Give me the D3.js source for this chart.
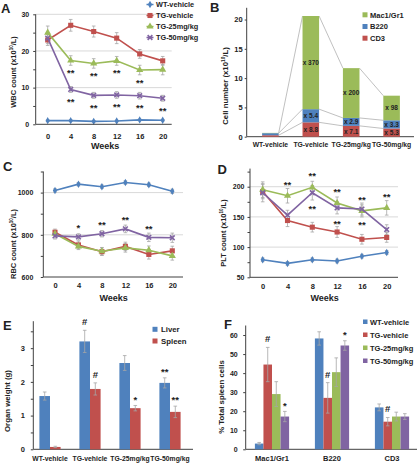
<!DOCTYPE html>
<html><head><meta charset="utf-8">
<script src="https://cdn.jsdelivr.net/npm/d3@7"></script>
<style>
body{margin:0;background:#fff}
text{font-family:"Liberation Sans",Arial,sans-serif;font-weight:bold;fill:#222}
</style>
</head><body><svg id="c" width="417" height="463"></svg>
<script>
// ---------- DATA ----------
const weeks=[0,4,8,12,16,20];
const groups=["WT-vehicle","TG-vehicle","TG-25mg/kg","TG-50mg/kg"];

// A: WBC
const wbcWT=[1.0,1.0,0.8,0.9,1.2,1.1];
const wbcTG=[23.0,27.0,25.3,23.5,19.2,17.3];
const wbc25=[25.0,17.4,16.6,17.3,14.8,14.9];
const wbc50=[23.5,9.5,7.9,8.0,7.8,7.1];
const wbcErrWT=[0.2,0.2,0.2,0.2,0.2,0.2];
const wbcErrTG=[1.5,1.6,1.5,1.5,1.2,1.2];
const wbcErr25=[1.8,1.3,1.3,1.2,1.3,1.4];
const wbcErr50=[1.5,0.8,0.8,0.9,0.9,0.8];
const wbcStars25=["","**","**","**","**",""];
const wbcStars50=["","**","**","**","**","**"];

// C: RBC
const rbcWT=[1010,1040,1028,1048,1037,1006];
const rbcTG=[812,752,720,745,707,724];
const rbc25=[805,745,722,738,727,700];
const rbc50=[795,790,805,828,788,786];
const rbcErrWT=[8,8,8,8,8,10];
const rbcErrTG=[15,18,18,20,22,22];
const rbcErr25=[15,15,18,20,20,20];
const rbcErr50=[15,15,15,18,20,22];
const rbcStars50=["","*","**","**","**",""];

// D: PLT
const pltWT=[79,73,79,77,85,91];
const pltTG=[192,144,133,125,113,116];
const plt25=[195,185,199,173,160,165];
const plt50=[190,153,190,165,163,129];
const pltErrWT=[3,3,3,3,3,3];
const pltErrTG=[12,10,8,9,8,8];
const pltErr25=[13,12,10,10,10,12];
const pltErr50=[15,8,12,10,10,8];
const pltStars25=["","**","**","**","**","**"];
const pltStars50=["","","**","**","**",""];

// B: stacked cell numbers
const cellTypes=["CD3","B220","Mac1/Gr1"];
const cd3B=[0.25,2.45,1.85,1.4];
const b220B=[0.35,2.25,1.35,1.4];
const macB=[0.05,15.9,8.5,4.2];
const cd3Fold=["","x 8.8","x 7.1","x 5.3"];
const b220Fold=["","x 5.4","x 2.9","x 3.3"];
const macFold=["","x 370","x 200","x 98"];

// E: organ weight
const organs=["Liver","Spleen"];
const liverW=[1.58,3.2,2.56,1.97];
const liverErr=[0.12,0.33,0.22,0.15];
const spleenW=[0.07,1.79,1.22,1.11];
const spleenErr=[0.02,0.18,0.08,0.17];
const liverMark=["","#","","**"];
const spleenMark=["","#","*","**"];

// F: % spleen cells
const spleenCats=["Mac1/Gr1","B220","CD3"];
const fWT=[3.0,58.2,22.0];
const fTG=[44.5,27.0,14.5];
const f25=[29.0,40.5,17.2];
const f50=[17.2,54.5,17.2];
const fErrWT=[0.6,3.5,1.8];
const fErrTG=[9.0,8.0,2.2];
const fErr25=[6.5,7.5,2.3];
const fErr50=[2.7,2.5,1.5];
const fMarkTG=["#","#","#"];
const fMark50=["*","*",""];

// ---------- STYLE ----------
const BLUE="#4f81bd",RED="#c0504d",GREEN="#9bbb59",PURPLE="#8064a2";
const seriesColors=[BLUE,RED,GREEN,PURPLE];
const ERR="#a6a6a6",GRID="#d9d9d9",AX="#404040";

const svg=d3.select("#c");
svg.append("rect").attr("width",417).attr("height",463).attr("fill","#fff");

function panelLetter(t,x,y){svg.append("text").attr("x",x).attr("y",y).attr("font-size",13).text(t);}
function yTitle(x,cy,main,fs){
  const t=svg.append("text").attr("transform",`translate(${x},${cy}) rotate(-90)`)
    .attr("text-anchor","middle").attr("font-size",fs||7.5);
  t.append("tspan").text(main.a);
  if(main.sup){t.append("tspan").attr("font-size",(fs||7.5)*0.6).attr("dy",-3).text(main.sup);
    t.append("tspan").attr("dy",3).text(main.b);}
}
function drawYAxis(y,cfg){
  const vals=d3.range(cfg.yd[0],cfg.axTopVal+1e-6,cfg.minor);
  const ax=d3.axisLeft(y).tickValues(vals).tickSize(cfg.tickLen).tickSizeOuter(0)
    .tickPadding(cfg.gap-cfg.tickLen).tickFormat(d=>cfg.labels.some(l=>Math.abs(l-d)<1e-6)?d:"");
  const g=svg.append("g").attr("transform",`translate(${cfg.ax},0)`).call(ax);
  g.attr("font-size",cfg.fs||7);
  g.select(".domain").attr("stroke",AX).attr("d",`M0,${y(cfg.yd[0])}V${y(cfg.axTopVal)}`);
  g.selectAll(".tick line").attr("stroke",AX);
  return g;
}
function symbolFor(i){return [d3.symbolDiamond,d3.symbolSquare,d3.symbolTriangle,d3.symbolTimes||d3.symbolCross][i];}
function symSize(i){return [16,26,22,16][i];}
function drawMarker(g,i,cx,cy){
  const p=d3.symbol().type(symbolFor(i)).size(symSize(i))();
  const m=g.append("path").attr("d",p).attr("transform",`translate(${cx},${cy})`);
  if(i===3){m.attr("fill","none").attr("stroke",PURPLE).attr("stroke-width",1.6);}
  else m.attr("fill",seriesColors[i]);
}

function linePanel(cfg){
  const x=d3.scaleLinear().domain([0,20]).range(cfg.xr);
  const y=d3.scaleLinear().domain(cfg.yd).range(cfg.yr);
  const g=svg.append("g");
  cfg.grid.forEach(v=>g.append("line").attr("x1",cfg.ax).attr("x2",cfg.axEnd)
    .attr("y1",y(v)).attr("y2",y(v)).attr("stroke",GRID).attr("stroke-width",1));
  drawYAxis(y,cfg);
  const xa=d3.axisBottom(x).tickValues(weeks).tickSize(0).tickPadding(cfg.xpad);
  const xg=svg.append("g").attr("transform",`translate(0,${y(cfg.yd[0])})`).call(xa).attr("font-size",7.5);
  xg.select(".domain").remove();
  svg.append("line").attr("x1",cfg.ax).attr("x2",cfg.axEnd).attr("y1",y(cfg.yd[0])).attr("y2",y(cfg.yd[0])).attr("stroke",AX);
  svg.append("text").attr("x",(cfg.xr[0]+cfg.xr[1])/2).attr("y",cfg.weeksY).attr("text-anchor","middle").attr("font-size",9).text("Weeks");
  const line=d3.line().x((d,i)=>x(weeks[i])).y(d=>y(d));
  cfg.series.forEach((s)=>{
    s.v.forEach((v,i)=>{
      const e=s.e[i],cx=x(weeks[i]);
      g.append("line").attr("x1",cx).attr("x2",cx).attr("y1",y(v-e)).attr("y2",y(v+e)).attr("stroke",ERR).attr("stroke-width",0.8);
      [v-e,v+e].forEach(w=>g.append("line").attr("x1",cx-1.8).attr("x2",cx+1.8).attr("y1",y(w)).attr("y2",y(w)).attr("stroke",ERR).attr("stroke-width",0.8));
    });
  });
  cfg.series.forEach((s,si)=>{
    g.append("path").attr("d",line(s.v)).attr("fill","none").attr("stroke",seriesColors[si]).attr("stroke-width",1.6);
    s.v.forEach((v,i)=>drawMarker(g,si,x(weeks[i]),y(v)));
  });
  cfg.stars.forEach(st=>{
    st.marks.forEach((m,i)=>{ if(!m)return;
      g.append("text").attr("x",x(weeks[i])).attr("y",y(st.v[i])+st.dy).attr("text-anchor","middle").attr("font-size",9.5).text(m);
    });
  });
  return {x,y};
}

// ---------- A ----------
panelLetter("A",1,13);
linePanel({xr:[47.7,162.7],yd:[0,30],yr:[124.3,14.3],ax:35.7,axEnd:171.7,axTopVal:30,minor:5,labels:[0,10,20,30],
  tickLen:2.5,gap:6.5,grid:[10,20,30],xpad:9,weeksY:149,
  series:[{v:wbcWT,e:wbcErrWT},{v:wbcTG,e:wbcErrTG},{v:wbc25,e:wbcErr25},{v:wbc50,e:wbcErr50}],
  stars:[{v:wbc25,marks:wbcStars25,dy:15.5},{v:wbc50,marks:wbcStars50,dy:15.5}]});
yTitle(15.5,72,{a:"WBC count  (x10",sup:"10",b:"/L)"});
groups.forEach((gname,i)=>{
  const ly=4.5+i*11;
  svg.append("line").attr("x1",146.5).attr("x2",153.5).attr("y1",ly).attr("y2",ly).attr("stroke",seriesColors[i]).attr("stroke-width",1.5);
  drawMarker(svg,i,150,ly);
  svg.append("text").attr("x",156).attr("y",ly+2.6).attr("font-size",7.3).text(gname);
});

// ---------- C ----------
panelLetter("C",3,171);
linePanel({xr:[55,172.3],yd:[600,1100],yr:[277,171.5],ax:43.3,axEnd:183,axTopVal:1100,minor:100,labels:[600,800,1000],
  tickLen:2.5,gap:10,grid:[800,1000],xpad:6,weeksY:301,
  series:[{v:rbcWT,e:rbcErrWT},{v:rbcTG,e:rbcErrTG},{v:rbc25,e:rbcErr25},{v:rbc50,e:rbcErr50}],
  stars:[{v:rbc50,marks:rbcStars50,dy:-5.5}]});
yTitle(16,244,{a:"RBC count  (x10",sup:"10",b:"/L)"});

// ---------- D ----------
panelLetter("D",217.5,174);
linePanel({xr:[262.7,386.7],yd:[50,230],yr:[277.3,168.6],ax:250,axEnd:398,axTopVal:230,minor:25,labels:[50,100,150,200],
  tickLen:2.5,gap:5.5,grid:[100,150,200],xpad:6.5,weeksY:301,
  series:[{v:pltWT,e:pltErrWT},{v:pltTG,e:pltErrTG},{v:plt25,e:pltErr25},{v:plt50,e:pltErr50}],
  stars:[{v:plt25,marks:pltStars25,dy:-8},{v:plt50,marks:pltStars50,dy:19}]});
yTitle(226,233,{a:"PLT count  (x10",sup:"10",b:"/L)"});

// ---------- B ----------
panelLetter("B",210,11.5);
(function(){
  const x=d3.scaleBand().domain(groups).range([250,412]).paddingInner(0.59).paddingOuter(0.3);
  const y=d3.scaleLinear().domain([0,22]).range([136.7,7.8]);
  drawYAxis(y,{yd:[0,22],axTopVal:22,minor:5,labels:[0,5,10,15,20],tickLen:2,gap:4,ax:246.7,fs:7.5});
  svg.append("line").attr("x1",246.7).attr("x2",414).attr("y1",y(0)).attr("y2",y(0)).attr("stroke",AX);
  const stack=d3.stack().keys(cellTypes)(groups.map((g,i)=>({g,"CD3":cd3B[i],"B220":b220B[i],"Mac1/Gr1":macB[i]})));
  const cols={"CD3":RED,"B220":BLUE,"Mac1/Gr1":GREEN};
  const folds={"CD3":cd3Fold,"B220":b220Fold,"Mac1/Gr1":macFold};
  stack.forEach(layer=>{
    for(let i=0;i<groups.length-1;i++){
      svg.append("line").attr("x1",x(groups[i])+x.bandwidth()).attr("y1",y(layer[i][1]))
        .attr("x2",x(groups[i+1])).attr("y2",y(layer[i+1][1])).attr("stroke","#b0b0b0").attr("stroke-width",0.8);
    }
  });
  stack.forEach(layer=>{
    layer.forEach((d,i)=>{
      svg.append("rect").attr("x",x(groups[i])).attr("width",x.bandwidth())
        .attr("y",y(d[1])).attr("height",y(d[0])-y(d[1])).attr("fill",cols[layer.key]);
      const lab=folds[layer.key][i];
      if(lab) svg.append("text").attr("x",x(groups[i])+x.bandwidth()/2).attr("y",(y(d[0])+y(d[1]))/2+2.4)
        .attr("text-anchor","middle").attr("font-size",6.5).attr("fill","#333").text(lab);
    });
  });
  groups.forEach(g=>svg.append("text").attr("x",x(g)+x.bandwidth()/2).attr("y",146.5).attr("text-anchor","middle").attr("font-size",6.8).text(g));
  yTitle(228,86,{a:"Cell number  (x10",sup:"10",b:"/L)"},7.8);
  ["Mac1/Gr1","B220","CD3"].forEach((k,i)=>{
    const ly=15+i*11.7;
    svg.append("rect").attr("x",362.5).attr("y",ly-2.7).attr("width",5).attr("height",5).attr("fill",cols[k]);
    svg.append("text").attr("x",370).attr("y",ly+2.6).attr("font-size",7.5).text(k);
  });
})();

function errBar(cx,y,v,e){
  svg.append("line").attr("x1",cx).attr("x2",cx).attr("y1",y(v-e)).attr("y2",y(v+e)).attr("stroke",ERR).attr("stroke-width",0.8);
  [v-e,v+e].forEach(w=>svg.append("line").attr("x1",cx-1.8).attr("x2",cx+1.8).attr("y1",y(w)).attr("y2",y(w)).attr("stroke",ERR).attr("stroke-width",0.8));
}
function mark(cx,y,t){
  svg.append("text").attr("x",cx).attr("y",t==="#"?y+3:y+5.2).attr("text-anchor","middle").attr("font-size",9.5).text(t);
}

// ---------- E ----------
panelLetter("E",3,329.5);
(function(){
  const x0=d3.scaleBand().domain(groups).range([30,190]).paddingInner(0.47).paddingOuter(0.235);
  const x1=d3.scaleBand().domain(organs).range([0,x0.bandwidth()]);
  const y=d3.scaleLinear().domain([0,3.8]).range([449.3,321.2]);
  drawYAxis(y,{yd:[0,3.8],axTopVal:3.8,minor:0.5,labels:[0,1,2,3],tickLen:2.5,gap:8.5,ax:33.3,fs:7.5});
  svg.append("line").attr("x1",33.3).attr("x2",193).attr("y1",y(0)).attr("y2",y(0)).attr("stroke",AX);
  const vals=[liverW,spleenW],errs=[liverErr,spleenErr],marks=[liverMark,spleenMark],cols=[BLUE,RED];
  groups.forEach((g,i)=>{
    organs.forEach((o,k)=>{
      const bx=x0(g)+x1(o),v=vals[k][i];
      svg.append("rect").attr("x",bx).attr("width",x1.bandwidth()).attr("y",y(v)).attr("height",y(0)-y(v)).attr("fill",cols[k]);
      errBar(bx+x1.bandwidth()/2,y,v,errs[k][i]);
      if(marks[k][i]) mark(bx+x1.bandwidth()/2,y(v+errs[k][i])-8,marks[k][i]);
    });
    svg.append("text").attr("x",x0(g)+x0.bandwidth()/2).attr("y",461.3).attr("text-anchor","middle").attr("font-size",6.8).text(g);
  });
  yTitle(9.5,401,{a:"Organ weight  (g)"},7.8);
  organs.forEach((o,k)=>{
    const ly=329.5+k*11.7;
    svg.append("rect").attr("x",152.5).attr("y",ly-2.7).attr("width",5).attr("height",5).attr("fill",cols[k]);
    svg.append("text").attr("x",161).attr("y",ly+2.7).attr("font-size",7.8).text(o);
  });
})();

// ---------- F ----------
panelLetter("F",224,328.5);
(function(){
  const x0=d3.scaleBand().domain(spleenCats).range([242,422]).paddingInner(0.43).paddingOuter(0.215);
  const x1=d3.scaleBand().domain(groups).range([0,x0.bandwidth()]);
  const y=d3.scaleLinear().domain([0,65]).range([449.3,325.5]);
  drawYAxis(y,{yd:[0,65],axTopVal:65,minor:10,labels:[0,10,20,30,40,50,60],tickLen:2.5,gap:8,ax:245.7,fs:7});
  svg.append("line").attr("x1",245.7).attr("x2",417).attr("y1",y(0)).attr("y2",y(0)).attr("stroke",AX);
  const vals=[fWT,fTG,f25,f50],errs=[fErrWT,fErrTG,fErr25,fErr50];
  spleenCats.forEach((c,i)=>{
    groups.forEach((g,k)=>{
      const bx=x0(c)+x1(g),v=vals[k][i];
      svg.append("rect").attr("x",bx).attr("width",x1.bandwidth()).attr("y",y(v)).attr("height",y(0)-y(v)).attr("fill",seriesColors[k]);
      errBar(bx+x1.bandwidth()/2,y,v,errs[k][i]);
      const m=k===1?fMarkTG[i]:(k===3?fMark50[i]:"");
      if(m) mark(bx+x1.bandwidth()/2,y(v+errs[k][i])-8,m);
    });
    svg.append("text").attr("x",x0(c)+x0.bandwidth()/2).attr("y",461.3).attr("text-anchor","middle").attr("font-size",7.5).text(c);
  });
  yTitle(223.5,397,{a:"% Total spleen cells"},7.8);
  groups.forEach((g,k)=>{
    const ly=322+k*13;
    svg.append("rect").attr("x",363).attr("y",ly-2.5).attr("width",4.5).attr("height",4.5).attr("fill",seriesColors[k]);
    svg.append("text").attr("x",370).attr("y",ly+2.6).attr("font-size",7.5).text(g);
  });
})();
</script></body></html>
